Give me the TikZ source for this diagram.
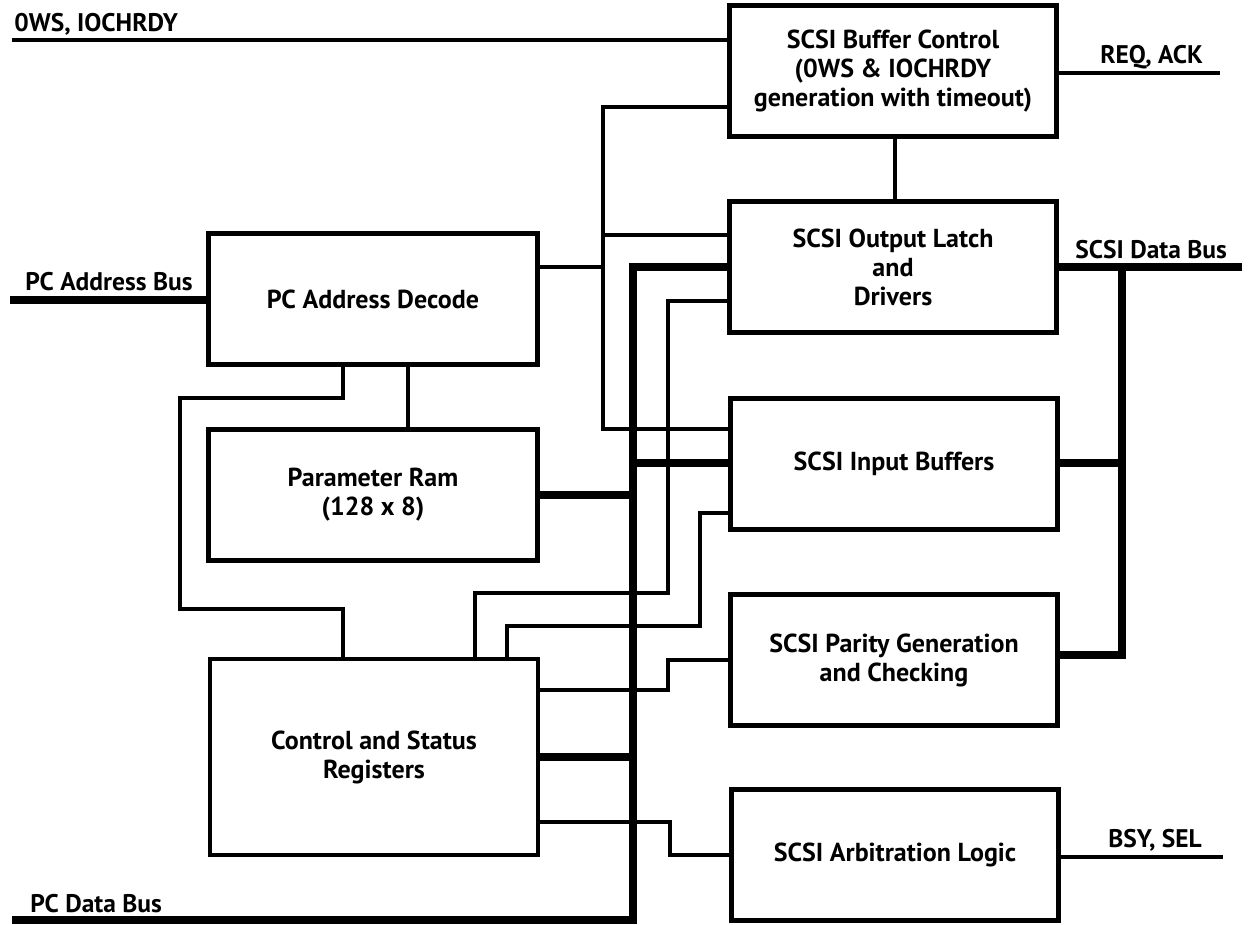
\documentclass[tikz,border=0pt]{standalone}
\usepackage{fontspec}
\setmainfont{PT Sans}
\usepackage{tikz}

\begin{document}
\begin{tikzpicture}[x=0.02cm, y=-0.02cm,
blk/.style={shape=rectangle, draw, line width=2.8pt, minimum width=6.54cm, minimum height=2.62cm, align=center, font=\bfseries\fontsize{14.8}{16.5}\selectfont},
wire/.style={line width=1.9pt},
bus/.style={line width=4.5pt},
lbl/.style={anchor=base west, inner sep=0pt, font=\bfseries\fontsize{14.5}{16}\selectfont}]
\useasboundingbox (0,0) rectangle (1255,924);

\node[blk] (bufctl) at (893,71) {SCSI Buffer Control\\(0WS \& IOCHRDY\\generation with timeout)};
\node[blk] (outlatch) at (893,267) {SCSI Output Latch\\and\\Drivers};
\node[blk] (inbuf) at (894,464) {SCSI Input Buffers};
\node[blk] (parity) at (894,660) {SCSI Parity Generation\\and Checking};
\node[blk] (arb) at (895,855) {SCSI Arbitration Logic};
\node[blk, minimum width=6.58cm] (addrdec) at (373,299) {PC Address Decode};
\node[blk, minimum width=6.58cm] (pram) at (373,495) {Parameter Ram\\(128 x 8)};
\node[blk, minimum width=6.56cm, minimum height=3.92cm] (csr) at (374,757) {Control and Status\\Registers};

\coordinate (ows) at (12,40);
\coordinate (pcaddr) at (10,300);
\coordinate (pcdata) at (12,920);
\coordinate (reqack) at (1220,73);
\coordinate (scsidata) at (1242,267);
\coordinate (bsysel) at (1223,857);

\node[lbl] (owslbl) at (14,31) {0WS, IOCHRDY};
\node[lbl] (pcaddrlbl) at (25,290) {PC Address Bus};
\node[lbl] (pcdatalbl) at (30,912) {PC Data Bus};
\node[lbl] (reqacklbl) at (1100,63) {REQ, ACK};
\node[lbl] (scsidatalbl) at (1075,258) {SCSI Data Bus};
\node[lbl] (bsysellbl) at (1108,847) {BSY, SEL};

\draw[wire] (ows) -- (bufctl.west |- ows);
\draw[wire] (bufctl.east |- reqack) -- (reqack);
\draw[wire] (arb.east |- bsysel) -- (bsysel);
\draw[wire] (bufctl.south -| 895,0) -- (outlatch.north -| 895,0);
\draw[wire] (inbuf.west |- 0,429) -| (603,107) -- (bufctl.west |- 0,107);
\draw[wire] (603,235) -- (outlatch.west |- 0,235);
\draw[wire] (addrdec.east |- 0,267) -- (603,267);
\draw[wire] (csr.north -| 475,0) |- (668,593) |- (outlatch.west |- 0,301);
\draw[wire] (csr.north -| 507,0) |- (700,626) |- (inbuf.west |- 0,513);
\draw[wire] (csr.east |- 0,690) -| (668,660) -- (parity.west |- 0,660);
\draw[wire] (csr.east |- 0,822) -| (670,855) -- (arb.west |- 0,855);
\draw[wire] (addrdec.south -| 408,0) -- (pram.north -| 408,0);
\draw[wire] (addrdec.south -| 343,0) |- (180,398) |- (343,609) -- (csr.north -| 343,0);

\draw[bus] (pcaddr) -- (addrdec.west |- pcaddr);
\draw[bus] (pcdata) -| (633,267) -- (outlatch.west |- 0,267);
\draw[bus] (633,463) -- (inbuf.west |- 0,463);
\draw[bus] (pram.east |- 0,495) -- (633,495);
\draw[bus] (csr.east |- 0,757) -- (633,757);
\draw[bus] (outlatch.east |- scsidata) -- (scsidata);
\draw[bus] (1122,267) |- (parity.east |- 0,655);
\draw[bus] (inbuf.east |- 0,463) -- (1122,463);
\end{tikzpicture}
\end{document}
